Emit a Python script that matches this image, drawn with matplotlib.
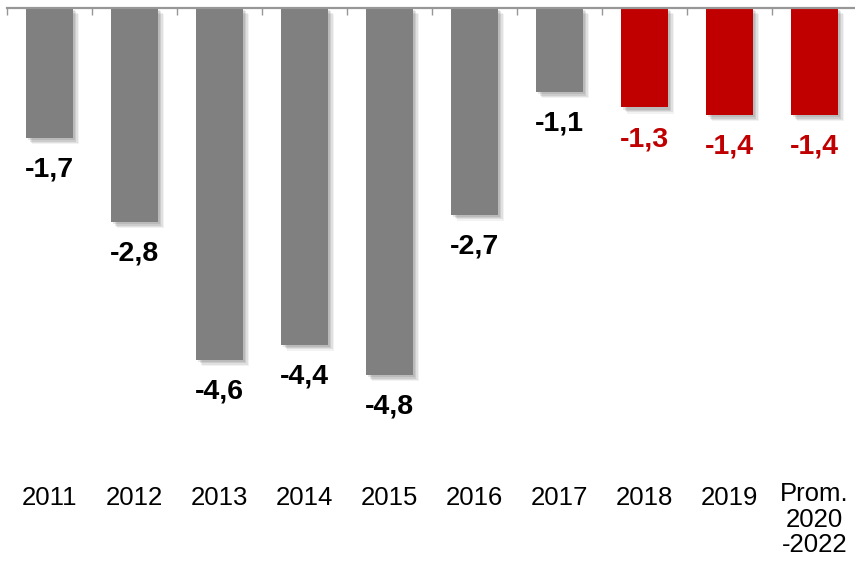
import matplotlib
matplotlib.use("Agg")
import matplotlib.pyplot as plt
import matplotlib.patheffects as pe
from matplotlib.transforms import blended_transform_factory
import numpy as np

plt.rcParams['font.family'] = ['Liberation Sans', 'DejaVu Sans']

categories = ["2011", "2012", "2013", "2014", "2015", "2016", "2017", "2018", "2019", "Prom.\n2020\n-2022"]
values = [-1.7, -2.8, -4.6, -4.4, -4.8, -2.7, -1.1, -1.3, -1.4, -1.4]
projected = [False, False, False, False, False, False, False, True, True, True]

GRAY = "#808080"
RED = "#C00000"

W, H = 855, 562
fig = plt.figure(figsize=(W / 100, H / 100), dpi=100)
ax_left, ax_top, ax_bottom = 7, 8, 470
ax_w = 850
ax = fig.add_axes([ax_left / W, 1 - ax_bottom / H, ax_w / W, (ax_bottom - ax_top) / H])

px_per_unit = 76.5
ymin = -(ax_bottom - ax_top) / px_per_unit
ax.set_ylim(ymin, 0)
ax.set_xlim(-0.5, len(categories) - 0.5)

x = np.arange(len(categories))
bar_colors = [RED if p else GRAY for p in projected]

shadow = [
    pe.SimplePatchShadow(offset=(1.5, -1.5), shadow_rgbFace="k", alpha=0.09),
    pe.SimplePatchShadow(offset=(2.5, -2.5), shadow_rgbFace="k", alpha=0.09),
    pe.SimplePatchShadow(offset=(3.5, -3.5), shadow_rgbFace="k", alpha=0.07),
    pe.SimplePatchShadow(offset=(4.5, -4.5), shadow_rgbFace="k", alpha=0.05),
    pe.Normal(),
]
bars = ax.bar(x, values, width=0.55, color=bar_colors, zorder=2)
for b in bars:
    b.set_path_effects(shadow)

for xi, v, p in zip(x, values, projected):
    ax.annotate(f"{v:.1f}".replace(".", ","), xy=(xi, v), xytext=(0, -13.5),
                textcoords="offset points", ha="center", va="top",
                fontsize=20.5, fontweight="bold", color=RED if p else "black")

for s in ["left", "right", "bottom"]:
    ax.spines[s].set_visible(False)
ax.spines["top"].set_color("#979797")
ax.spines["top"].set_linewidth(1.6)
ax.set_yticks([])
ax.set_xticks([])
ax.set_xticks(np.arange(-0.5, len(categories) - 0.4, 1.0), minor=True)
ax.tick_params(axis="x", which="minor", top=True, bottom=False, direction="in",
               length=5, width=1, color="#979797", labeltop=False, labelbottom=False)

trans = blended_transform_factory(ax.transData, ax.transAxes)
for xi, c in zip(x, categories):
    if "\n" in c:
        yy = (ax_bottom - 482) / (ax_bottom - ax_top)
        ax.text(xi, yy, c, transform=trans, ha="center", va="top", fontsize=18.5,
                linespacing=1.08, multialignment="center", clip_on=False)
    else:
        yy = (ax_bottom - 498) / (ax_bottom - ax_top)
        ax.text(xi, yy, c, transform=trans, ha="center", va="center", fontsize=18.5,
                clip_on=False)

fig.savefig("out.png", dpi=100)
